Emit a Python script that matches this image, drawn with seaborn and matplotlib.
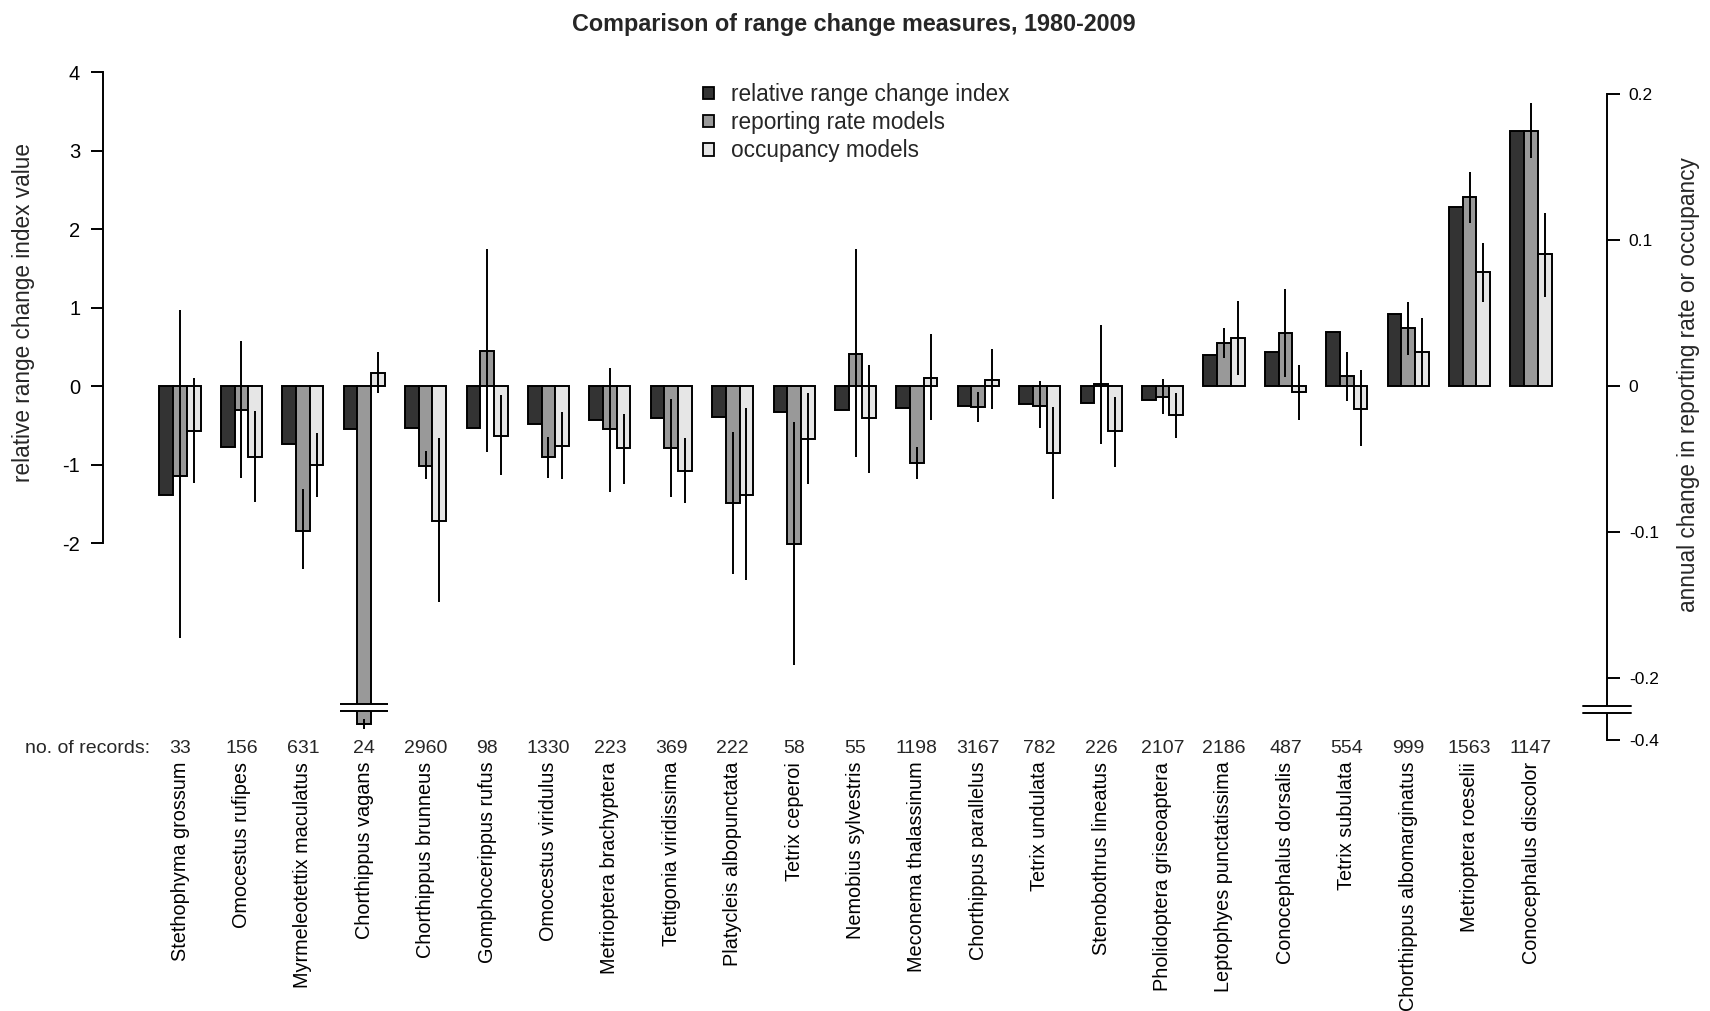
import numpy as np
import pandas as pd
import matplotlib
matplotlib.use("Agg")
import matplotlib.pyplot as plt
import matplotlib.transforms as mtransforms
from matplotlib.patches import Patch, Rectangle
import seaborn as sns

# ---------------------------------------------------------------- data
species = [
    "Stethophyma grossum", "Omocestus rufipes", "Myrmeleotettix maculatus",
    "Chorthippus vagans", "Chorthippus brunneus", "Gomphocerippus rufus",
    "Omocestus viridulus", "Metrioptera brachyptera", "Tettigonia viridissima",
    "Platycleis albopunctata", "Tetrix ceperoi", "Nemobius sylvestris",
    "Meconema thalassinum", "Chorthippus parallelus", "Tetrix undulata",
    "Stenobothrus lineatus", "Pholidoptera griseoaptera",
    "Leptophyes punctatissima", "Conocephalus dorsalis", "Tetrix subulata",
    "Chorthippus albomarginatus", "Metrioptera roeselii", "Conocephalus discolor",
]
n_records = [33, 156, 631, 24, 2960, 98, 1330, 223, 369, 222, 58, 55,
             1198, 3167, 782, 226, 2107, 2186, 487, 554, 999, 1563, 1147]

# relative range change index (left axis)
range_index = [-1.39, -0.78, -0.74, -0.55, -0.53, -0.53, -0.49, -0.43, -0.41,
               -0.39, -0.33, -0.31, -0.285, -0.25, -0.225, -0.22, -0.18,
               0.39, 0.43, 0.69, 0.92, 2.28, 3.245]

# annual change in reporting rate (right axis) with interval
reporting = [-0.0616, -0.0164, -0.099, -0.311, -0.0548, 0.0242, -0.0484,
             -0.0297, -0.0427, -0.0803, -0.1084, 0.0219, -0.0529, -0.0144,
             -0.0135, 0.0014, -0.0075, 0.0294, 0.036, 0.0066, 0.0395,
             0.1294, 0.1743]
reporting_lo = [-0.1725, -0.063, -0.1255, -0.339, -0.0639, -0.0454, -0.0628,
                -0.0728, -0.0758, -0.1287, -0.191, -0.0484, -0.0639, -0.0244,
                -0.029, -0.0399, -0.0192, 0.0194, 0.006, -0.0103, 0.0212,
                0.1114, 0.1563]
reporting_hi = [0.052, 0.031, -0.0707, -0.284, -0.0445, 0.0936, -0.0347,
                0.0125, -0.0091, -0.0313, -0.0249, 0.0936, -0.0415, -0.0039,
                0.0034, 0.042, 0.0048, 0.0399, 0.0662, 0.0235, 0.0573,
                0.1463, 0.1935]

# annual change in occupancy (right axis) with interval
occupancy = [-0.0306, -0.0484, -0.054, 0.0091, -0.0922, -0.034, -0.0408,
             -0.0427, -0.0582, -0.0746, -0.0363, -0.0221, 0.0053, 0.0041,
             -0.0461, -0.0306, -0.0198, 0.0331, -0.0043, -0.0157, 0.0231,
             0.0778, 0.0901]
occupancy_lo = [-0.0662, -0.0794, -0.0758, -0.0046, -0.1478, -0.0609, -0.0639,
                -0.0673, -0.0803, -0.1328, -0.0673, -0.0598, -0.0233, -0.0157,
                -0.0773, -0.0552, -0.0358, 0.0075, -0.0233, -0.0411, 0.0,
                0.0577, 0.0607]
occupancy_hi = [0.0057, -0.0169, -0.0324, 0.0235, -0.0354, -0.0062, -0.018,
                -0.0194, -0.0358, -0.0148, -0.005, 0.0144, 0.0354, 0.0253,
                -0.0141, -0.0073, -0.005, 0.0584, 0.0144, 0.011, 0.0463,
                0.0981, 0.1186]

series_labels = ["relative range change index", "reporting rate models",
                 "occupancy models"]
series_colors = ["#333333", "#999999", "#e6e6e6"]

left_ticks = [-2, -1, 0, 1, 2, 3, 4]
right_ticks = [-0.4, -0.2, -0.1, 0, 0.1, 0.2]
right_tick_labels = ["-0.4", "-0.2", "-0.1", "0", "0.1", "0.2"]

# ---------------------------------------------------------------- style
sns.set_style("white")
plt.rcParams["font.family"] = ["Liberation Sans", "DejaVu Sans"]

W, H = 1710, 1011
fig = plt.figure(figsize=(W / 100, H / 100), dpi=100)

# plot region in pixels
px_left, px_right, px_top, px_bottom = 103.3, 1606.7, 60.0, 745.0
ax = fig.add_axes([px_left / W, 1 - px_bottom / H,
                   (px_right - px_left) / W, (px_bottom - px_top) / H])
ax2 = ax.twinx()

# right axis is compressed below the break so the long bar fits
BREAK_AT = -0.22
SQUEEZE = 0.1239


def _fwd(v):
    v = np.asarray(v, dtype=float)
    return np.where(v >= BREAK_AT, v, BREAK_AT + (v - BREAK_AT) * SQUEEZE)


def _inv(p):
    p = np.asarray(p, dtype=float)
    return np.where(p >= BREAK_AT, p, BREAK_AT + (p - BREAK_AT) / SQUEEZE)


ax2.set_yscale("function", functions=(_fwd, _inv))

n = len(species)
pos = np.arange(n, dtype=float)
bw = 0.223
edge_kw = dict(edgecolor="black", linewidth=1.4)

df = pd.DataFrame({
    "pos": pos, "range_index": range_index,
    "reporting": reporting, "occupancy": occupancy,
})

sns.barplot(x=pos - bw, y=df["range_index"], native_scale=True, width=bw,
            color=series_colors[0], saturation=1, errorbar=None, ax=ax,
            **edge_kw)
sns.barplot(x=pos, y=df["reporting"], native_scale=True, width=bw,
            color=series_colors[1], saturation=1, errorbar=None, ax=ax2,
            **edge_kw)
sns.barplot(x=pos + bw, y=df["occupancy"], native_scale=True, width=bw,
            color=series_colors[2], saturation=1, errorbar=None, ax=ax2,
            **edge_kw)

# confidence intervals
ax2.vlines(pos, reporting_lo, reporting_hi, color="black", lw=1.4, zorder=4)
ax2.vlines(pos + bw, occupancy_lo, occupancy_hi, color="black", lw=1.4,
           zorder=4)

# ---------------------------------------------------------------- axes
ax.set_xlim(-1.249, 23.232)
ax.set_ylim(-4.5732, 4.1529)
ax2.set_ylim(-0.4276, 0.22313)

for a in (ax, ax2):
    a.set_xlabel("")
    a.set_ylabel("")
    a.spines["top"].set_visible(False)
    a.spines["bottom"].set_visible(False)
    a.grid(False)
ax.spines["right"].set_visible(False)
ax2.spines["left"].set_visible(False)
ax.spines["left"].set_bounds(-2, 4)
ax2.spines["right"].set_bounds(-0.4, 0.2)
for s in (ax.spines["left"], ax2.spines["right"]):
    s.set_linewidth(1.4)
    s.set_color("black")

ax.set_yticks(left_ticks, [str(t) for t in left_ticks])
ax.tick_params(axis="y", which="both", left=True, direction="out",
               length=8.6, width=1.4, pad=8.0, labelsize=14.5, colors="black")
ax2.set_yticks(right_ticks, right_tick_labels)
ax2.yaxis.set_minor_locator(matplotlib.ticker.NullLocator())
ax2.tick_params(axis="y", which="both", right=True, direction="out",
                length=9.0, width=1.4, pad=6.9, labelsize=12.5, colors="black")

ax.set_xticks(pos, species, rotation=90, ha="center", va="top")
ax.tick_params(axis="x", length=0, pad=12, labelsize=14.3, colors="black")

# break marks: on the truncated bar and on the right axis
bar_gap = (-0.2382, -0.2179)
ax2.add_patch(Rectangle((3 - 0.39, bar_gap[0]), 0.78, bar_gap[1] - bar_gap[0],
                        facecolor="white", edgecolor="none", zorder=6))
ax2.hlines(bar_gap, 3 - 0.39, 3 + 0.39, color="black", lw=1.4, zorder=7)

axis_gap = (-0.2491, -0.2190)
ytr = ax2.get_yaxis_transform()
half = 24 / (px_right - px_left)
ax2.add_patch(Rectangle((1 - 0.006, axis_gap[0]), 0.012,
                        axis_gap[1] - axis_gap[0], transform=ytr,
                        facecolor="white", edgecolor="none", zorder=6,
                        clip_on=False))
for yv in axis_gap:
    ax2.plot([1 - half, 1 + half], [yv, yv], transform=ytr, color="black",
             lw=1.4, zorder=7, clip_on=False)

# record counts under each group
cnt_tr = mtransforms.blended_transform_factory(ax.transData, fig.transFigure)
cnt_y = 1 - 753 / H
for x, nrec in zip(pos, n_records):
    ax.text(x, cnt_y, str(nrec), transform=cnt_tr, ha="center",
            va="baseline", fontsize=14)
fig.text(25 / W, cnt_y, "no. of records:", ha="left", va="baseline",
         fontsize=14)

# axis titles and main title
fig.text(24 / W, 1 - 312 / H, "relative range change index value",
         rotation=90, ha="center", va="center", fontsize=16.3)
fig.text(1688 / W, 1 - 385 / H, "annual change in reporting rate or occupancy",
         rotation=90, ha="center", va="center", fontsize=16.3)
fig.text(854 / W, 1 - 30.6 / H, "Comparison of range change measures, 1980-2009",
         ha="center", va="baseline", fontsize=16.8, fontweight="bold")

# legend
handles = [Patch(facecolor=c, edgecolor="black", linewidth=1.3)
           for c in series_colors]
ax2.legend(handles, series_labels, loc="upper left",
           bbox_to_anchor=(703 / W, 1 - 83 / H),
           bbox_transform=fig.transFigure, frameon=False, borderpad=0,
           borderaxespad=0, handlelength=0.47, handleheight=0.47,
           handletextpad=0.75, labelspacing=0.23, fontsize=16.3)

fig.savefig("out.png", dpi=100, facecolor="white")
